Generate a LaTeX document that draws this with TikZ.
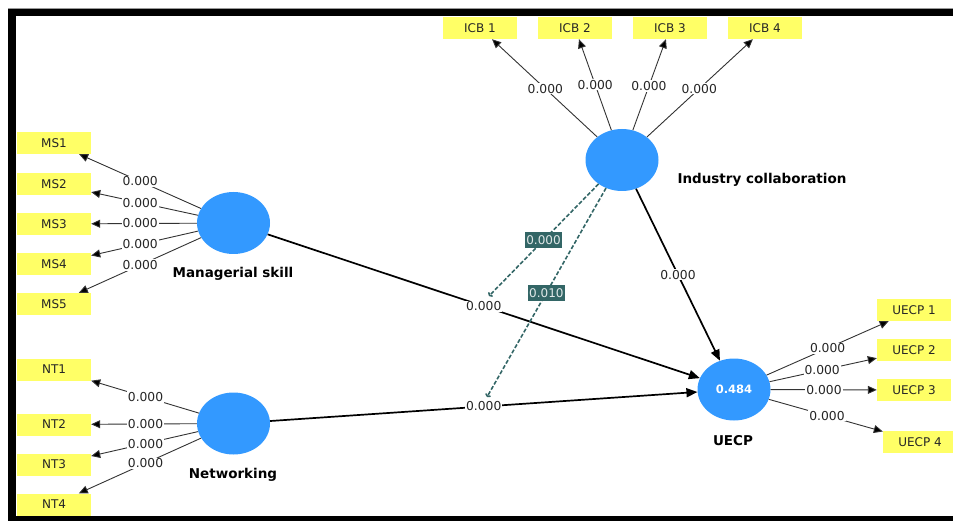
\documentclass[tikz,border=0pt]{standalone}
\usepackage{fontspec}
\setmainfont{DejaVu Sans}
\usetikzlibrary{shapes.geometric,arrows.meta,calc}
\definecolor{indy}{HTML}{FFFF66}
\definecolor{lvblue}{HTML}{3399FF}
\definecolor{modteal}{HTML}{336666}
\begin{document}
\begin{tikzpicture}[x=1pt,y=-1pt,
  ind/.style={fill=indy, minimum width=74pt, minimum height=22pt, inner sep=0pt, text=black!85, font=\fontsize{12}{14}\selectfont},
  lv/.style={ellipse, fill=lvblue, minimum width=73pt, minimum height=62pt, inner sep=0pt},
  lvlabel/.style={font=\bfseries\fontsize{13.5}{15}\selectfont},
  load/.style={draw=black!80, line width=0.9pt, -{Triangle[length=9pt,width=8pt,fill=black]}},
  struct/.style={draw=black, line width=1.7pt, -{Triangle[length=11pt,width=9pt]}},
  val/.style={fill=white, inner sep=1pt, text=black!85, font=\fontsize{12.3}{14}\selectfont},
  mod/.style={draw=modteal, dash pattern=on 4pt off 2pt, line width=1.6pt, -{To[length=3pt]}},
  modval/.style={fill=modteal, text=white!85!modteal, inner xsep=1.5pt, inner ysep=3.5pt, font=\fontsize{12}{14}\selectfont}
]
\useasboundingbox (0,0) rectangle (953,521);
% frame
\draw[black!40, line width=0.8pt] (8,8.6) -- (953,8.6);
\fill[black] (8,9) rectangle (953,16);
\fill[black] (8,9) rectangle (16,521);
\fill[black] (8,516) rectangle (953,521);

% latent variables
\node[lv] (ms) at (233.5,223) {};
\node[lv] (nt) at (233.5,423.5) {};
\node[lv] (ic) at (622,160) {};
\node[lv, text=white, font=\bfseries\fontsize{11.5}{14}\selectfont] (ue) at (734,389.5) {0.484};

\node[lvlabel] (msl) at (233,274) {Managerial skill};
\node[lvlabel] (ntl) at (233,475) {Networking};
\node[lvlabel, anchor=west] (icl) at (674,180) {Industry collaboration};
\node[lvlabel] (uel) at (733,441) {UECP};

% indicators
\node[ind] (ms1) at (54,143) {MS1};
\node[ind] (ms2) at (54,184) {MS2};
\node[ind] (ms3) at (54,224) {MS3};
\node[ind] (ms4) at (54,264) {MS4};
\node[ind] (ms5) at (54,304) {MS5};

\node[ind] (nt1) at (54,369.5) {NT1};
\node[ind] (nt2) at (54,424.5) {NT2};
\node[ind] (nt3) at (54,464.5) {NT3};
\node[ind] (nt4) at (54,504.5) {NT4};

\node[ind] (icb1) at (480,28) {ICB 1};
\node[ind] (icb2) at (575,28) {ICB 2};
\node[ind] (icb3) at (670,28) {ICB 3};
\node[ind] (icb4) at (765,28) {ICB 4};

\node[ind] (ue1) at (914,310) {UECP 1};
\node[ind] (ue2) at (914,350) {UECP 2};
\node[ind] (ue3) at (914,390) {UECP 3};
\node[ind] (ue4) at (920,442) {UECP 4};

% outer loadings
\foreach \t/\p in {ms1/0.52, ms2/0.52, ms3/0.52, ms4/0.52, ms5/0.52}{
  \draw[load] (ms) -- (\t);
  \node[val] at ($(ms)!\p!(\t)$) {0.000};
}
\foreach \t/\p in {nt1/0.49, nt2/0.49, nt3/0.49, nt4/0.49}{
  \draw[load] (nt) -- (\t);
  \node[val] at ($(nt)!\p!(\t)$) {0.000};
}
\foreach \t/\p in {icb1/0.54, icb2/0.57, icb3/0.56, icb4/0.54}{
  \draw[load] (ic) -- (\t);
  \node[val] at ($(ic)!\p!(\t)$) {0.000};
}
\foreach \t/\p in {ue1/0.52, ue2/0.49, ue3/0.5, ue4/0.5}{
  \draw[load] (ue) -- (\t);
  \node[val] at ($(ue)!\p!(\t)$) {0.000};
}

% structural paths
\draw[struct] (ms) -- (ue);
\draw[struct] (nt) -- (ue);
\draw[struct] (ic) -- (ue);
\node[val] (pms) at ($(ms)!0.5!(ue)$) {0.000};
\node[val] (pnt) at ($(nt)!0.5!(ue)$) {0.000};
\node[val] (pic) at ($(ic)!0.5!(ue)$) {0.000};

% moderating effects
\coordinate (m1) at (489,296);
\coordinate (m2) at (487,397);
\draw[mod] (ic) -- (m1);
\draw[mod] (ic) -- (m2);
\node[modval] at ($(ic)!0.59!(m1)$) {0.000};
\node[modval] at ($(ic)!0.56!(m2)$) {0.010};
\end{tikzpicture}
\end{document}
